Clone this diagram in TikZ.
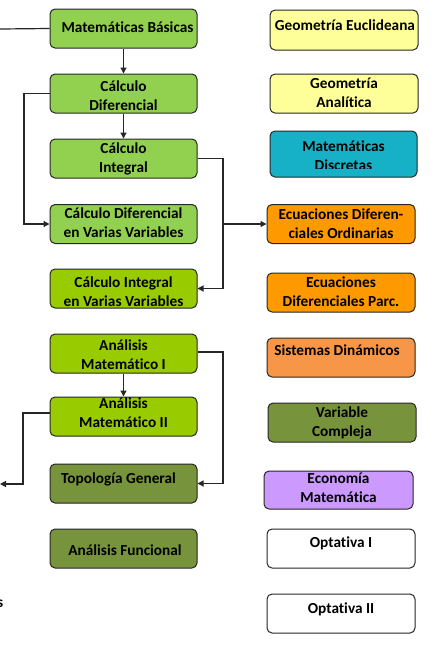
\documentclass[tikz,border=0pt]{standalone}
\usepackage{fontspec}
\setmainfont{Carlito}[Ligatures={NoCommon}]
\usetikzlibrary{arrows.meta}

\definecolor{grnA}{HTML}{92D050}
\definecolor{grnB}{HTML}{99CC00}
\definecolor{olive}{HTML}{77933C}
\definecolor{paleyel}{HTML}{FFFF99}
\definecolor{teal}{HTML}{17B1C7}
\definecolor{orng}{HTML}{FF9900}
\definecolor{orngsoft}{HTML}{F79646}
\definecolor{lilac}{HTML}{CC99FF}
\definecolor{boxline}{HTML}{262626}

\tikzset{
  box/.style={draw=boxline, line width=1pt, rounded corners=5pt,
    minimum width=147pt, minimum height=39pt, inner sep=0pt},
  lbl/.style={font=\fontsize{15.3}{19}\selectfont\bfseries, align=center,
    inner sep=0pt, text=black},
  link/.style={line width=1.2pt, draw=black!85},
  arr/.style={link, -{Triangle[length=6pt,width=6pt]}}
}

\begin{document}
\begin{tikzpicture}[x=1pt,y=1pt]
\useasboundingbox (0,0) rectangle (440,-649);

% left column: core courses
\node[box, fill=grnA]  (mb)   at (123.5,-28.5)  {};
\node[box, fill=grnA]  (cd)   at (123.5,-93.5)  {};
\node[box, fill=grnA]  (ci)   at (123.5,-158.5) {};
\node[box, fill=grnA]  (cdvv) at (123.5,-224)   {};
\node[box, fill=grnB]  (civv) at (123.5,-288.5) {};
\node[box, fill=grnB]  (am1)  at (123.5,-353.5) {};
\node[box, fill=grnB]  (am2)  at (123.5,-416.5) {};
\node[box, fill=olive] (topo) at (123.5,-483.5) {};
\node[box, fill=olive] (af)   at (123.5,-548.5) {};

% right column
\node[box, fill=paleyel, minimum width=148pt, minimum height=40pt] (ge) at (344,-30) {};
\node[box, fill=paleyel, minimum width=148pt] (ga) at (344,-93.5) {};
\node[box, fill=teal, minimum width=147pt, minimum height=46pt] (md) at (343.5,-154) {};
\node[box, fill=orng, minimum width=148pt] (edo) at (341,-224) {};
\node[box, fill=orng, minimum width=148pt] (edp) at (341,-292.5) {};
\node[box, fill=orngsoft, minimum width=148pt] (sd) at (341,-357.5) {};
\node[box, fill=olive, minimum width=148pt] (vc) at (342,-422.5) {};
\node[box, fill=lilac, minimum width=149pt, minimum height=38pt] (em) at (338.5,-490) {};
\node[box, fill=white, minimum width=148pt] (op1) at (341,-548.5) {};
\node[box, fill=white, minimum width=148pt] (op2) at (341,-613.5) {};

% labels
\node[lbl] (mb-t)   at (127.5,-27)  {Matemáticas Básicas};
\node[lbl] (cd-t)   at (123.5,-96)  {Cálculo\\Diferencial};
\node[lbl] (ci-t)   at (123.5,-159) {Cálculo\\Integral};
\node[lbl] (cdvv-t) at (123.5,-223) {Cálculo Diferencial\\en Varias Variables};
\node[lbl] (civv-t) at (123.5,-291.5) {Cálculo Integral\\en Varias Variables};
\node[lbl] (am1-t)  at (123.5,-354.5) {Análisis\\Matemático I};
\node[lbl] (am2-t)  at (123.5,-412.5) {Análisis\\Matemático II};
\node[lbl] (topo-t) at (118.5,-479.5) {Topología General};
\node[lbl] (af-t)   at (125,-550)     {Análisis Funcional};

\node[lbl] (ge-t)  at (345,-25)    {Geometría Euclideana};
\node[lbl] (ga-t)  at (344,-93)    {Geometría\\Analítica};
\begin{scope}
  \clip (270,-131) rectangle (417,-168.5);
  \node[lbl] (md-t) at (343.5,-156) {Matemáticas\\Discretas};
\end{scope}
\node[lbl] (edo-t) at (341,-223.5) {Ecuaciones Diferen-\\ciales Ordinarias};
\node[lbl] (edp-t) at (341,-291.5) {Ecuaciones\\Diferenciales Parc.};
\node[lbl] (sd-t)  at (337,-350)   {Sistemas Dinámicos};
\node[lbl] (vc-t)  at (342,-422.5) {Variable\\Compleja};
\node[lbl] (em-t)  at (338.5,-488) {Economía\\Matemática};
\node[lbl] (op1-t) at (341,-543)   {Optativa I};
\node[lbl] (op2-t) at (341,-609)   {Optativa II};

% trailing fragment of a label at the left margin
\node[lbl, anchor=base east] (frag) at (3.5,-607) {s};

% connector buses
\coordinate (busL)  at (24,0);
\coordinate (busL2) at (23,0);
\coordinate (busR)  at (223,0);
\coordinate (feed)  at (0,-29);
\coordinate (exit)  at (0,-484);

% connectors
\draw[link] (feed) -- (mb.west);
\draw[arr] (mb.south) -- (cd.north);
\draw[arr] (cd.south) -- (ci.north);
\draw[arr] (cd.west) -- (cd.west -| busL) |- (cdvv.west);
\draw[arr] (ci.east) -- (ci.east -| busR) |- (civv.east);
\draw[arr] (edo.west -| busR) -- (edo.west);
\draw[arr] ([yshift=1.5pt]am1.east) -- ([yshift=1.5pt]am1.east -| busR) |- (topo.east);
\draw[arr] (am1.south) -- (am2.north);
\draw[arr] ([yshift=3.5pt]am2.west) -- ([yshift=3.5pt]am2.west -| busL2) |- (exit);
\end{tikzpicture}
\end{document}
